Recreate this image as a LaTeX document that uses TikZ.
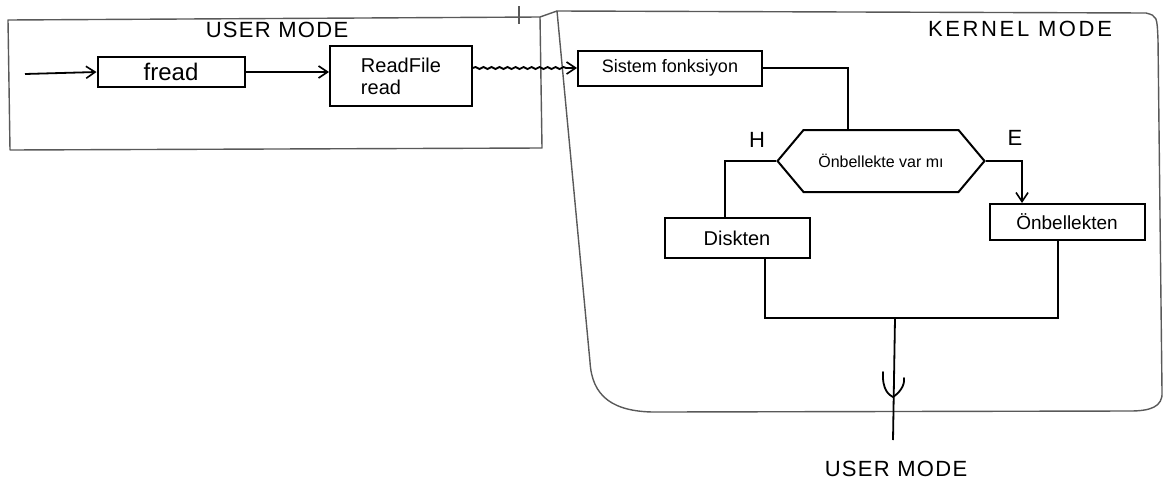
\documentclass[tikz,border=0pt]{standalone}
\usepackage{fontspec}
\setmainfont{Liberation Sans}
\usetikzlibrary{shapes.symbols,arrows.meta,decorations.pathmorphing}
\begin{document}
\begin{tikzpicture}[x=1pt,y=-1pt,
  frame/.style={draw=black!65,line width=1.4pt,line join=round},
  wire/.style={draw=black,line width=1.8pt},
  arr/.style={wire,-{Straight Barb[length=9pt,width=12pt,line width=1.6pt]}},
  box/.style={draw=black,line width=2pt,inner sep=2pt,align=left},
  lbl/.style={font=\fontsize{22}{24}\selectfont}]
\useasboundingbox (0,0) rectangle (1166,490);
% frames
\draw[frame] (8,20) -- (540,17) -- (542,148) -- (10,150) -- cycle;
\draw[frame] (540,17) -- (557,11);
\draw[frame] (519,6) -- (519,24);
\draw[frame] (557,11) -- (1146,13) .. controls (1157,16) .. (1158,40) -- (1162,392)
  .. controls (1163,407) and (1150,411) .. (1130,411) -- (660,412)
  .. controls (612,413) and (592,396) .. (590,362) -- cycle;
\node[lbl] (umode) at (277,30) {\addfontfeature{LetterSpace=6}USER MODE};
\node[lbl] (kmode) at (1020,29) {\addfontfeature{LetterSpace=12}KERNEL MODE};
\node[lbl] (umode2) at (896,469) {\addfontfeature{LetterSpace=6}USER MODE};
% boxes
\node[box,minimum width=147pt,minimum height=30pt,font=\fontsize{24}{26}\selectfont] (fread) at (171,72) {fread};
\node[box,minimum width=142pt,minimum height=60pt,font=\fontsize{20}{22}\selectfont] (readfile) at (401,76) {ReadFile\\read};
\node[box,minimum width=184pt,minimum height=35pt,font=\fontsize{18}{20}\selectfont] (sistem) at (670,68) {Sistem fonksiyon};
\node[draw=black,line width=2pt,signal,signal to=west and east,signal pointer angle=100,
  minimum width=207pt,minimum height=62pt,font=\fontsize{16}{18}\selectfont] (cache) at (881,161) {Önbellekte var mı};
\node[box,minimum width=145pt,minimum height=40pt,font=\fontsize{20}{22}\selectfont] (disk) at (737,238) {Diskten};
\node[box,minimum width=155pt,minimum height=36pt,font=\fontsize{19}{21}\selectfont] (onbel) at (1067,222) {Önbellekten};
\node[lbl] (h) at (757,140) {H};
\node[lbl] (e) at (1015,138) {E};
% connectors
\coordinate (in0) at (25,74);
\coordinate (jn) at (895,318);
\coordinate (out) at (893,440);
\draw[arr] (in0) -- (fread.west);
\draw[arr] (fread.east) -- (fread.east -| readfile.west);
\draw[wire,decorate,decoration={snake,amplitude=1pt,segment length=8pt,post length=10pt},
  -{Straight Barb[length=9pt,width=12pt,line width=1.6pt]}] (readfile.east |- sistem.west) -- (sistem.west);
\draw[wire] (sistem.east) -| ([xshift=-33pt]cache.north);
\draw[wire] (cache.west) -| ([xshift=-12pt]disk.north);
\draw[arr] (cache.east) -| ([xshift=-45pt]onbel.north);
\draw[wire] ([xshift=28pt]disk.south) |- (jn) -| ([xshift=-9pt]onbel.south);
\draw[wire] (jn) -- (out);
\draw[wire,line cap=round] (883,372) .. controls (882,390) and (889,395) .. (893,397)
  .. controls (899,393) and (905,386) .. (904,378);
\end{tikzpicture}
\end{document}
